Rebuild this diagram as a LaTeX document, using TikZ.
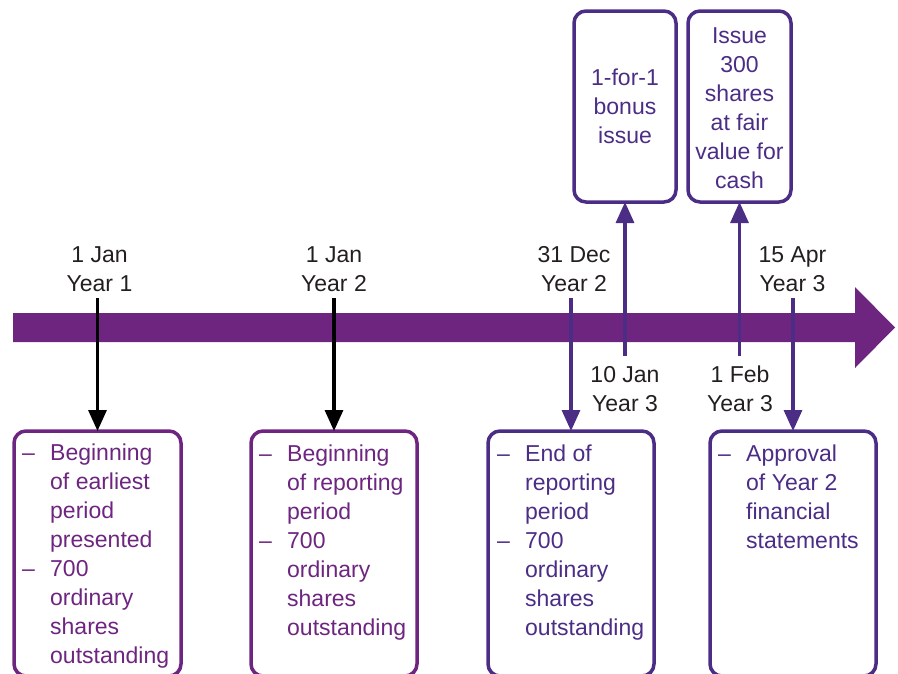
\documentclass[tikz,border=0pt]{standalone}
\usepackage{fontspec}
\setmainfont{Liberation Sans}
\usetikzlibrary{arrows.meta}
\definecolor{kpurple}{HTML}{6D2580}
\definecolor{kviolet}{HTML}{4B2D86}
\definecolor{ktext}{HTML}{231F20}
\newcommand{\twoline}[2]{\begin{tabular}[t]{@{}c@{}}#1\\#2\end{tabular}}
\begin{document}
\begin{tikzpicture}[x=1pt,y=-1pt,
  lbl/.style={font=\fontsize{23}{29}\selectfont, text=ktext, inner sep=0pt, anchor=base},
  bxt/.style={font=\fontsize{23}{29}\selectfont, text=#1, inner sep=0pt, anchor=base west},
  ctt/.style={font=\fontsize{23}{29}\selectfont, text=#1, inner sep=0pt, anchor=base},
  box/.style={draw=#1, line width=3.5pt, rounded corners=12pt, inner sep=0pt, outer sep=0pt},
  conn/.style={draw=#1, line width=3.2pt, -{Triangle[length=21pt,width=18pt]}}]
\useasboundingbox (0,0) rectangle (898,673);
% timeline band
\fill[kpurple] (13,313) -- (855,313) -- (855,287) -- (895,327.5) -- (855,368) -- (855,342) -- (13,342) -- cycle;
% bottom boxes
\node[box=kpurple, minimum width=167pt, minimum height=245pt] (b1) at (97.5,553.5) {};
\node[box=kpurple, minimum width=166pt, minimum height=245pt] (b2) at (334,553.5) {};
\node[box=kviolet, minimum width=166pt, minimum height=245pt] (b3) at (571,553.5) {};
\node[box=kviolet, minimum width=166pt, minimum height=245pt] (b4) at (793,553.5) {};
% top boxes
\node[box=kviolet, minimum width=102pt, minimum height=191pt] (b5) at (625,106.5) {};
\node[box=kviolet, minimum width=103pt, minimum height=191pt] (b6) at (739.5,106.5) {};
% top box texts
\node[ctt=kviolet] (t5) at (625,85) {\begin{tabular}[t]{@{}c@{}}1-for-1\\bonus\\issue\end{tabular}};
\node[ctt=kviolet] (t6) at (739.5,43) {\begin{tabular}[t]{@{}c@{}}Issue\\300\\shares\\at fair\\value for\\cash\end{tabular}};
% bottom box texts
\node[bxt=kpurple] (t1) at (22,460) {\begin{tabular}[t]{@{}p{28pt}@{}l@{}}–&Beginning\\&of earliest\\&period\\&presented\\–&700\\&ordinary\\&shares\\&outstanding\end{tabular}};
\node[bxt=kpurple] (t2) at (259,461) {\begin{tabular}[t]{@{}p{28pt}@{}l@{}}–&Beginning\\&of reporting\\&period\\–&700\\&ordinary\\&shares\\&outstanding\end{tabular}};
\node[bxt=kviolet] (t3) at (497,461) {\begin{tabular}[t]{@{}p{28pt}@{}l@{}}–&End of\\&reporting\\&period\\–&700\\&ordinary\\&shares\\&outstanding\end{tabular}};
\node[bxt=kviolet] (t4) at (718,461) {\begin{tabular}[t]{@{}p{28pt}@{}l@{}}–&Approval\\&of Year 2\\&financial\\&statements\end{tabular}};
% date labels
\node[lbl] (d1) at (99.5,262) {\twoline{1 Jan}{Year 1}};
\node[lbl] (d2) at (334,262) {\twoline{1 Jan}{Year 2}};
\node[lbl] (d3) at (574,262) {\twoline{31 Dec}{Year 2}};
\node[lbl] (d4) at (792.5,262) {\twoline{15 Apr}{Year 3}};
\node[lbl] (d5) at (625,382) {\twoline{10 Jan}{Year 3}};
\node[lbl] (d6) at (740,382) {\twoline{1 Feb}{Year 3}};
% connectors
\coordinate (s1) at (97.5,298);
\coordinate (s2) at (334,298);
\coordinate (s3) at (571,298);
\coordinate (s4) at (793,298);
\coordinate (s5) at (625,356);
\coordinate (s6) at (739.5,356);
\draw[conn=black] (s1) -- (b1.north);
\draw[conn=black] (s2) -- (b2.north);
\draw[conn=kviolet] (s3) -- (b3.north);
\draw[conn=kviolet] (s4) -- (b4.north);
\draw[conn=kviolet] (s5) -- (b5.south);
\draw[conn=kviolet] (s6) -- (b6.south);
\end{tikzpicture}
\end{document}
